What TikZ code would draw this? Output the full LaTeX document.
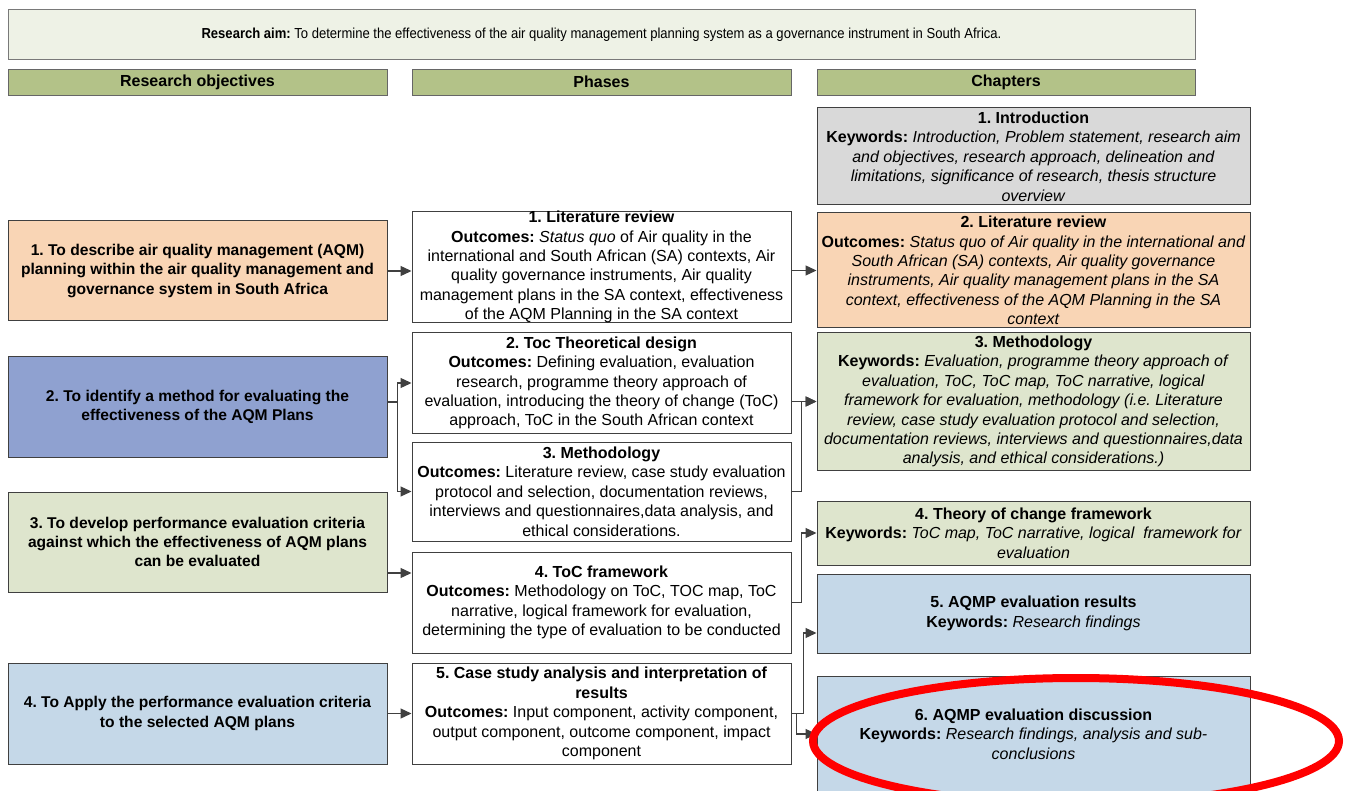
\documentclass[tikz,border=0pt]{standalone}
\usepackage{fontspec}
\setmainfont{Liberation Sans}
\newfontfamily\narrowfont[FakeStretch=0.9]{Liberation Sans}
\usetikzlibrary{arrows.meta,calc}
\frenchspacing

\definecolor{linegrey}{HTML}{404040}
\definecolor{aimfill}{HTML}{EEF2E6}
\definecolor{hdrfill}{HTML}{B3C288}
\definecolor{peach}{HTML}{F9D5B5}
\definecolor{periwinkle}{HTML}{8FA1D0}
\definecolor{olivelight}{HTML}{DEE5CD}
\definecolor{bluelight}{HTML}{C5D8E8}
\definecolor{greylight}{HTML}{D9D9D9}

\tikzset{
  box/.style={draw=linegrey, line width=1pt, inner sep=0pt, align=center,
    font=\fontsize{16}{19.4}\selectfont},
  hdr/.style={draw=linegrey!80, line width=0.8pt, fill=hdrfill, inner sep=0pt,
    minimum height=26pt, font=\bfseries\fontsize{16}{18}\selectfont},
  wire/.style={draw=linegrey, line width=1.3pt},
  conn/.style={wire, -{Triangle[length=11pt,width=10pt]}},
}

\begin{document}
\begin{tikzpicture}[x=1pt,y=-1pt]
\useasboundingbox[fill=white] (0,0) rectangle (1349,791);

% research aim and column headers
\node[box, fill=aimfill, draw=linegrey!70, minimum width=1187pt, minimum height=50pt,
  font=\narrowfont\fontsize{14.5}{16}\selectfont] (aim) at (601.5,35)
  {\textbf{Research aim:} To determine the effectiveness of the air quality management planning system as a governance instrument in South Africa.};
\node[hdr, minimum width=379pt] (hobj) at (197.5,82) {Research objectives};
\node[hdr, minimum width=379pt] (hph) at (601.5,82) {Phases};
\node[hdr, minimum width=378pt] (hch) at (1006,82) {Chapters};

% research objectives
\tikzset{obj/.style={box, minimum width=379pt, font=\bfseries\fontsize{15.6}{19.4}\selectfont}}
\node[obj, fill=peach, minimum height=100pt] (obj1) at (197.5,271)
  {1. To describe air quality management (AQM)\\planning within the air quality management and\\governance system in South Africa};
\node[obj, fill=periwinkle, minimum height=100pt] (obj2) at (197.5,407)
  {2. To identify a method for evaluating the\\effectiveness of the AQM Plans};
\node[obj, fill=olivelight, minimum height=100pt] (obj3) at (197.5,542)
  {3. To develop performance evaluation criteria\\against which the effectiveness of AQM plans\\can be evaluated};
\node[obj, fill=bluelight, minimum height=101pt] (obj4) at (197.5,713.5)
  {4. To Apply the performance evaluation criteria\\to the selected AQM plans};

% phases
\tikzset{phase/.style={box, fill=white, minimum width=379pt}}
\node[phase, minimum height=108pt] (p1) at (601.5,267)
  {\textbf{1. Literature review}\\\textbf{Outcomes:} \textit{Status quo} of Air quality in the\\international and South African (SA) contexts, Air\\quality governance instruments, Air quality\\management plans in the SA context, effectiveness\\of the AQM Planning in the SA context};
\node[phase, minimum height=100pt] (p2) at (601.5,383)
  {\textbf{2. Toc Theoretical design}\\\textbf{Outcomes:} Defining evaluation, evaluation\\research, programme theory approach of\\evaluation, introducing the theory of change (ToC)\\approach, ToC in the South African context};
\node[phase, minimum height=99pt] (p3) at (601.5,491.5)
  {\textbf{3. Methodology}\\\textbf{Outcomes:} Literature review, case study evaluation\\protocol and selection, documentation reviews,\\interviews and questionnaires,data analysis, and\\ethical considerations.};
\node[phase, minimum height=101pt] (p4) at (601.5,602.5)
  {\textbf{4. ToC framework}\\\textbf{Outcomes:} Methodology on ToC, TOC map, ToC\\narrative, logical framework for evaluation,\\determining the type of evaluation to be conducted};
\node[phase, minimum height=101pt] (p5) at (601.5,713.5)
  {\textbf{5. Case study analysis and interpretation of}\\\textbf{results}\\\textbf{Outcomes:} Input component, activity component,\\output component, outcome component, impact\\component};

% chapters
\tikzset{chap/.style={box, minimum width=433pt}}
\node[chap, fill=greylight, minimum height=97pt] (ch1) at (1033.5,156.5)
  {\textbf{1. Introduction}\\\textbf{Keywords:} \textit{Introduction, Problem statement, research aim}\\\textit{and objectives, research approach, delineation and}\\\textit{limitations, significance of research, thesis structure}\\\textit{overview}};
\node[chap, fill=peach, minimum height=115pt] (ch2) at (1033.5,270.5)
  {\textbf{2. Literature review}\\\textbf{Outcomes:} \textit{Status quo of Air quality in the international and}\\\textit{South African (SA) contexts, Air quality governance}\\\textit{instruments, Air quality management plans in the SA}\\\textit{context, effectiveness of the AQM Planning in the SA}\\\textit{context}};
\node[chap, fill=olivelight, minimum height=137pt] (ch3) at (1033.5,401.5)
  {\textbf{3. Methodology}\\\textbf{Keywords:} \textit{Evaluation, programme theory approach of}\\\textit{evaluation, ToC, ToC map, ToC narrative, logical}\\\textit{framework for evaluation, methodology (i.e. Literature}\\\textit{review, case study evaluation protocol and selection,}\\\textit{documentation reviews, interviews and questionnaires,data}\\\textit{analysis, and ethical considerations.)}};
\node[chap, fill=olivelight, minimum height=64pt] (ch4) at (1033.5,533)
  {\textbf{4. Theory of change framework}\\\textbf{Keywords:} \textit{ToC map, ToC narrative, logical\ \ framework for}\\\textit{evaluation}};
\node[chap, fill=bluelight, minimum height=79pt] (ch5) at (1033.5,613.5)
  {\textbf{5. AQMP evaluation results}\\\textbf{Keywords:} \textit{Research findings}};
\node[chap, fill=bluelight, minimum height=116pt] (ch6) at (1033.5,734)
  {\textbf{6. AQMP evaluation discussion}\\\textbf{Keywords:} \textit{Research findings, analysis and sub-}\\\textit{conclusions}};

% objectives to phases
\draw[conn] (obj1.east) -- (obj1.east -| p1.west);
\draw[wire] ([yshift=5pt]obj2.east) -- ++(10,0) coordinate (j2);
\draw[conn] (j2) |- (p2.west);
\draw[conn] (j2) |- (p3.west);
\draw[conn] ([yshift=-31pt]obj3.east) coordinate (a3) -- (a3 -| p4.west);
\draw[conn] (obj4.east) -- (obj4.east -| p5.west);

% phases to chapters
\draw[conn] (ch2.west -| p1.east) -- (ch2.west);
\draw[conn] (ch3.west -| p2.east) -- (ch3.west);
\draw[conn] (p3.east) -- ++(10,0) |- (ch3.west);
\draw[conn] (p4.east) -- ++(10,0) |- (ch4.west);
\draw[conn] (p5.east) -- ++(12,0) |- ([yshift=-19.5pt]ch5.west);
\draw[conn] (p5.east) -- ++(5,0) |- (ch6.west);

% highlight round chapter 6
\draw[red, line width=8pt] (1076,741) ellipse [x radius=263, y radius=63];
\end{tikzpicture}
\end{document}
